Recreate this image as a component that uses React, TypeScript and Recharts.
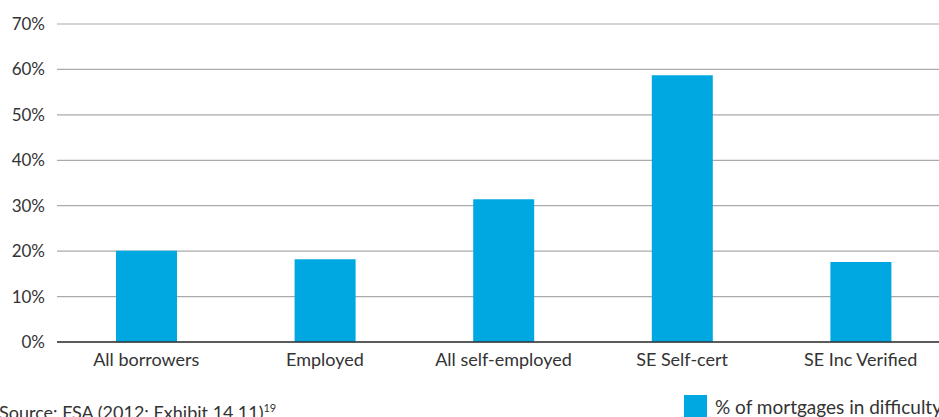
import { BarChart, Bar, XAxis, YAxis, CartesianGrid, ReferenceLine } from 'recharts';

const categories = ['All borrowers', 'Employed', 'All self-employed', 'SE Self-cert', 'SE Inc Verified'];
const difficultyPct = [20.1, 18.2, 31.4, 58.7, 17.6];
const yTicks = [0, 10, 20, 30, 40, 50, 60, 70];

const data = categories.map((name, i) => ({ name, value: difficultyPct[i] }));

const BLUE = '#00a8e1';
const FONT = 'Lato, "Open Sans", sans-serif';

export default function App() {
  return (
    <div
      style={{
        position: 'fixed',
        left: 0,
        top: 0,
        width: 939,
        height: 417,
        overflow: 'hidden',
        background: '#fff',
        fontFamily: FONT,
      }}
    >
      <BarChart
        width={950}
        height={417}
        data={data}
        margin={{ top: 24, right: 0, left: 0, bottom: 45 }}
      >
        <CartesianGrid vertical={false} stroke="#aaa" strokeWidth={1.2} />
        <XAxis
          dataKey="name"
          height={30}
          axisLine={false}
          tickLine={false}
          interval={0}
          tickMargin={5}
          tick={{ fill: '#333', fontSize: 18, fontFamily: FONT }}
        />
        <YAxis
          width={57}
          domain={[0, 70]}
          ticks={yTicks}
          axisLine={false}
          tickLine={false}
          tickMargin={6}
          tickFormatter={(v: number) => `${v}%`}
          tick={{ fill: '#333', fontSize: 17, fontFamily: FONT }}
        />
        <Bar dataKey="value" fill={BLUE} barSize={61} isAnimationActive={false} />
        <ReferenceLine y={0} stroke="#333" strokeWidth={1.5} />
      </BarChart>
      <div
        style={{
          position: 'absolute',
          left: -1,
          top: 401,
          fontSize: 18,
          color: '#333',
          whiteSpace: 'nowrap',
        }}
      >
        Source: FSA (2012: Exhibit 14.11)<sup style={{ fontSize: 11 }}>19</sup>
      </div>
      <div
        style={{
          position: 'absolute',
          left: 684,
          top: 395,
          display: 'flex',
          alignItems: 'flex-start',
          whiteSpace: 'nowrap',
        }}
      >
        <div style={{ width: 23, height: 23, background: BLUE }} />
        <span style={{ marginLeft: 8, fontSize: 19, color: '#333', lineHeight: '24px' }}>
          % of mortgages in difficulty
        </span>
      </div>
    </div>
  );
}
